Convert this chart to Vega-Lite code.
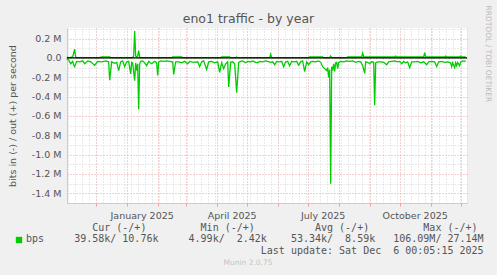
{
  "$schema": "https://vega.github.io/schema/vega-lite/v6.json",
  "width": 400,
  "height": 175,
  "autosize": {"type": "none"},
  "padding": {"left": 67, "top": 28, "right": 30, "bottom": 72},
  "background": "#f0f0f0",
  "title": {"text": "Munin 2.0.75", "orient": "bottom", "anchor": "middle", "frame": "group", "dx": -19, "offset": 4, "font": "DejaVu Sans", "fontSize": 7.5, "fontWeight": "normal", "color": "#c4c4c4"},
  "config": {"view": {"stroke": null, "fill": "white"}, "font": "DejaVu Sans"},
  "datasets": {
    "inData": [
      {"t":"2024-11-02","v":-10000},{"t":"2024-11-04","v":-20000},{"t":"2024-11-06","v":-60000},{"t":"2024-11-08","v":-35000},{"t":"2024-11-09","v":-70000},{"t":"2024-11-10","v":-90000},{"t":"2024-11-12","v":-35000},{"t":"2024-11-15","v":-40000},{"t":"2024-11-18","v":-30000},{"t":"2024-11-20","v":-60000},{"t":"2024-11-23","v":-30000},{"t":"2024-11-26","v":-40000},{"t":"2024-11-30","v":-75000},{"t":"2024-12-03","v":-35000},{"t":"2024-12-07","v":-40000},{"t":"2024-12-11","v":-30000},{"t":"2024-12-14","v":-40000},{"t":"2024-12-15","v":-230000},{"t":"2024-12-17","v":-40000},{"t":"2024-12-20","v":-55000},{"t":"2024-12-22","v":-45000},{"t":"2024-12-24","v":-130000},{"t":"2024-12-26","v":-40000},{"t":"2024-12-28","v":-30000},{"t":"2024-12-30","v":-90000},
      {"t":"2025-01-01","v":-40000},{"t":"2025-01-03","v":-35000},{"t":"2025-01-05","v":-165000},{"t":"2025-01-06","v":-45000},{"t":"2025-01-07","v":-50000},{"t":"2025-01-09","v":-235000},{"t":"2025-01-10","v":-50000},{"t":"2025-01-11","v":-130000},{"t":"2025-01-12","v":-60000},{"t":"2025-01-13","v":-530000},{"t":"2025-01-14","v":-60000},{"t":"2025-01-15","v":-35000},{"t":"2025-01-17","v":-30000},{"t":"2025-01-19","v":-50000},{"t":"2025-01-21","v":-80000},{"t":"2025-01-23","v":-35000},{"t":"2025-01-26","v":-60000},{"t":"2025-01-29","v":-35000},{"t":"2025-01-31","v":-50000},
      {"t":"2025-02-01","v":-180000},{"t":"2025-02-02","v":-40000},{"t":"2025-02-04","v":-30000},{"t":"2025-02-07","v":-35000},{"t":"2025-02-10","v":-30000},{"t":"2025-02-13","v":-35000},{"t":"2025-02-16","v":-40000},{"t":"2025-02-17","v":-170000},{"t":"2025-02-19","v":-40000},{"t":"2025-02-22","v":-40000},{"t":"2025-02-25","v":-50000},{"t":"2025-02-28","v":-35000},
      {"t":"2025-03-03","v":-60000},{"t":"2025-03-05","v":-35000},{"t":"2025-03-07","v":-40000},{"t":"2025-03-10","v":-45000},{"t":"2025-03-13","v":-40000},{"t":"2025-03-15","v":-90000},{"t":"2025-03-17","v":-40000},{"t":"2025-03-19","v":-30000},{"t":"2025-03-22","v":-120000},{"t":"2025-03-24","v":-40000},{"t":"2025-03-27","v":-35000},{"t":"2025-03-30","v":-50000},
      {"t":"2025-04-02","v":-40000},{"t":"2025-04-04","v":-150000},{"t":"2025-04-06","v":-50000},{"t":"2025-04-08","v":-110000},{"t":"2025-04-10","v":-60000},{"t":"2025-04-12","v":-40000},{"t":"2025-04-13","v":-300000},{"t":"2025-04-15","v":-45000},{"t":"2025-04-17","v":-40000},{"t":"2025-04-19","v":-60000},{"t":"2025-04-21","v":-360000},{"t":"2025-04-23","v":-45000},{"t":"2025-04-25","v":-35000},{"t":"2025-04-27","v":-30000},{"t":"2025-04-30","v":-50000},
      {"t":"2025-05-02","v":-35000},{"t":"2025-05-05","v":-40000},{"t":"2025-05-07","v":-30000},{"t":"2025-05-10","v":-45000},{"t":"2025-05-12","v":-50000},{"t":"2025-05-14","v":-35000},{"t":"2025-05-17","v":-40000},{"t":"2025-05-20","v":-30000},{"t":"2025-05-22","v":-35000},{"t":"2025-05-25","v":-45000},{"t":"2025-05-27","v":-40000},{"t":"2025-05-29","v":-70000},{"t":"2025-05-31","v":-35000},
      {"t":"2025-06-03","v":-40000},{"t":"2025-06-05","v":-35000},{"t":"2025-06-07","v":-90000},{"t":"2025-06-09","v":-40000},{"t":"2025-06-11","v":-35000},{"t":"2025-06-13","v":-80000},{"t":"2025-06-15","v":-35000},{"t":"2025-06-18","v":-40000},{"t":"2025-06-20","v":-35000},{"t":"2025-06-22","v":-75000},{"t":"2025-06-24","v":-40000},{"t":"2025-06-26","v":-30000},{"t":"2025-06-28","v":-140000},{"t":"2025-06-30","v":-40000},
      {"t":"2025-07-02","v":-70000},{"t":"2025-07-04","v":-40000},{"t":"2025-07-06","v":-35000},{"t":"2025-07-09","v":-40000},{"t":"2025-07-12","v":-30000},{"t":"2025-07-14","v":-45000},{"t":"2025-07-16","v":-90000},{"t":"2025-07-18","v":-110000},{"t":"2025-07-20","v":-130000},{"t":"2025-07-21","v":-100000},{"t":"2025-07-22","v":-200000},{"t":"2025-07-23","v":-120000},{"t":"2025-07-24","v":-1300000},{"t":"2025-07-25","v":-90000},{"t":"2025-07-26","v":-130000},{"t":"2025-07-27","v":-60000},{"t":"2025-07-28","v":-140000},{"t":"2025-07-29","v":-50000},{"t":"2025-07-30","v":-45000},{"t":"2025-07-31","v":-110000},
      {"t":"2025-08-01","v":-45000},{"t":"2025-08-03","v":-35000},{"t":"2025-08-06","v":-40000},{"t":"2025-08-09","v":-30000},{"t":"2025-08-12","v":-35000},{"t":"2025-08-15","v":-30000},{"t":"2025-08-18","v":-45000},{"t":"2025-08-21","v":-35000},{"t":"2025-08-23","v":-40000},{"t":"2025-08-25","v":-80000},{"t":"2025-08-27","v":-160000},{"t":"2025-08-28","v":-40000},{"t":"2025-08-30","v":-45000},
      {"t":"2025-09-01","v":-60000},{"t":"2025-09-03","v":-40000},{"t":"2025-09-05","v":-45000},{"t":"2025-09-06","v":-490000},{"t":"2025-09-07","v":-50000},{"t":"2025-09-09","v":-40000},{"t":"2025-09-12","v":-40000},{"t":"2025-09-15","v":-45000},{"t":"2025-09-18","v":-70000},{"t":"2025-09-20","v":-40000},{"t":"2025-09-23","v":-35000},{"t":"2025-09-26","v":-30000},{"t":"2025-09-29","v":-40000},
      {"t":"2025-10-01","v":-35000},{"t":"2025-10-03","v":-60000},{"t":"2025-10-05","v":-35000},{"t":"2025-10-07","v":-50000},{"t":"2025-10-09","v":-40000},{"t":"2025-10-11","v":-100000},{"t":"2025-10-13","v":-40000},{"t":"2025-10-16","v":-40000},{"t":"2025-10-19","v":-35000},{"t":"2025-10-22","v":-50000},{"t":"2025-10-25","v":-40000},{"t":"2025-10-28","v":-70000},{"t":"2025-10-30","v":-40000},
      {"t":"2025-11-02","v":-35000},{"t":"2025-11-05","v":-40000},{"t":"2025-11-07","v":-90000},{"t":"2025-11-09","v":-40000},{"t":"2025-11-12","v":-35000},{"t":"2025-11-15","v":-45000},{"t":"2025-11-18","v":-40000},{"t":"2025-11-21","v":-50000},{"t":"2025-11-22","v":-90000},{"t":"2025-11-23","v":-50000},{"t":"2025-11-25","v":-100000},{"t":"2025-11-26","v":-50000},{"t":"2025-11-27","v":-80000},{"t":"2025-11-28","v":-45000},{"t":"2025-11-30","v":-80000},
      {"t":"2025-12-01","v":-40000},{"t":"2025-12-03","v":-30000},{"t":"2025-12-05","v":-35000},{"t":"2025-12-06","v":-30000}
    ],
    "outData": [
      {"t":"2024-11-02","v":5000},{"t":"2024-11-05","v":3000},{"t":"2024-11-08","v":10000},{"t":"2024-11-10","v":90000},{"t":"2024-11-11","v":10000},{"t":"2024-11-12","v":3000},{"t":"2024-12-05","v":3000},{"t":"2024-12-07","v":12000},{"t":"2024-12-15","v":12000},{"t":"2024-12-16","v":3000},
      {"t":"2025-01-07","v":3000},{"t":"2025-01-08","v":20000},{"t":"2025-01-09","v":280000},{"t":"2025-01-10","v":20000},{"t":"2025-01-11","v":10000},{"t":"2025-01-12","v":20000},{"t":"2025-01-13","v":75000},{"t":"2025-01-14","v":10000},{"t":"2025-01-15","v":3000},
      {"t":"2025-02-15","v":3000},{"t":"2025-02-16","v":12000},{"t":"2025-02-25","v":12000},{"t":"2025-02-26","v":3000},{"t":"2025-04-05","v":3000},{"t":"2025-04-06","v":12000},{"t":"2025-04-14","v":12000},{"t":"2025-04-15","v":3000},{"t":"2025-04-20","v":3000},{"t":"2025-04-21","v":10000},{"t":"2025-04-22","v":3000},
      {"t":"2025-05-24","v":3000},{"t":"2025-05-25","v":40000},{"t":"2025-05-26","v":3000},{"t":"2025-07-02","v":3000},{"t":"2025-07-03","v":12000},{"t":"2025-07-16","v":12000},{"t":"2025-07-17","v":3000},{"t":"2025-07-23","v":3000},{"t":"2025-07-24","v":20000},{"t":"2025-07-25","v":3000},
      {"t":"2025-08-09","v":3000},{"t":"2025-08-10","v":10000},{"t":"2025-08-24","v":10000},{"t":"2025-08-25","v":50000},{"t":"2025-08-26","v":10000},{"t":"2025-09-26","v":10000},{"t":"2025-09-27","v":20000},{"t":"2025-09-28","v":10000},{"t":"2025-10-25","v":10000},{"t":"2025-10-26","v":55000},{"t":"2025-10-27","v":10000},
      {"t":"2025-11-15","v":10000},{"t":"2025-11-16","v":20000},{"t":"2025-11-17","v":10000},{"t":"2025-11-30","v":10000},{"t":"2025-12-01","v":20000},{"t":"2025-12-02","v":10000},{"t":"2025-12-06","v":10000}
    ]
  },
  "resolve": {"axis": {"x": "independent", "y": "independent"}},
  "layer": [
    {
      "data": {"name": "inData"},
      "mark": {"type": "line", "strokeWidth": 1.3, "interpolate": "linear"},
      "encoding": {
        "x": {
          "field": "t", "type": "temporal",
          "scale": {"type": "utc", "domain": [{"year": 2024, "month": 11, "date": 2, "hours": 8, "utc": true}, {"year": 2025, "month": 12, "date": 7, "hours": 8, "utc": true}]},
          "axis": {
            "orient": "bottom",
            "tickCount": {"interval": "month", "step": 1},
            "grid": true, "gridColor": "#e8a0a0", "gridDash": [1, 2], "gridWidth": 1,
            "domain": true, "domainColor": "#c8c8f0", "domainWidth": 1,
            "ticks": true, "tickColor": "#e8a0a0", "tickSize": 3,
            "labelExpr": "utcmonth(datum.value) % 3 === 0 ? utcFormat(datum.value, '%B %Y') : ''",
            "labelOffset": 15, "labelPadding": 4, "labelFontSize": 9.5, "labelColor": "#555555",
            "labelOverlap": false, "labelFlush": false, "labelBound": false,
            "title": [
              "\u200b\u00a0\u00a0\u00a0\u00a0\u00a0\u00a0\u00a0\u00a0\u00a0\u00a0\u00a0Cur (-/+)\u00a0\u00a0\u00a0\u00a0\u00a0\u00a0\u00a0\u00a0\u00a0Min (-/+)\u00a0\u00a0\u00a0\u00a0\u00a0\u00a0\u00a0\u00a0\u00a0\u00a0Avg (-/+)\u00a0\u00a0\u00a0\u00a0\u00a0\u00a0\u00a0\u00a0\u00a0Max (-/+)",
              "bps\u00a0\u00a0\u00a0\u00a0\u00a039.58k/ 10.76k\u00a0\u00a0\u00a0\u00a0\u00a04.99k/\u00a0\u00a02.42k\u00a0\u00a0\u00a0\u00a053.34k/\u00a0\u00a08.59k\u00a0\u00a0\u00a0106.09M/ 27.14M",
              "\u200b\u00a0\u00a0\u00a0\u00a0\u00a0\u00a0\u00a0\u00a0\u00a0\u00a0\u00a0\u00a0\u00a0\u00a0\u00a0\u00a0\u00a0\u00a0\u00a0\u00a0\u00a0\u00a0\u00a0\u00a0\u00a0\u00a0\u00a0\u00a0\u00a0\u00a0\u00a0\u00a0\u00a0\u00a0\u00a0\u00a0\u00a0\u00a0\u00a0Last update: Sat Dec\u00a0\u00a06 00:05:15 2025"
            ],
            "titleFont": "DejaVu Sans Mono", "titleFontSize": 10, "titleFontWeight": "normal", "titleColor": "#555555",
            "titleAlign": "left", "titleBaseline": "top", "titleX": -41.5, "titleY": 19, "titleLineHeight": 11.7
          }
        },
        "y": {
          "field": "v", "type": "quantitative",
          "scale": {"domain": [-1500000, 310000], "nice": false, "zero": false},
          "axis": {
            "orient": "left",
            "values": [-1500000, -1400000, -1300000, -1200000, -1100000, -1000000, -900000, -800000, -700000, -600000, -500000, -400000, -300000, -200000, -100000, 0, 100000, 200000, 300000],
            "grid": true,
            "gridColor": {"condition": {"test": "datum.value % 200000 === 0", "value": "#e8a0a0"}, "value": "#d4d4d4"},
            "gridDash": [1, 2], "gridWidth": 1,
            "domain": true, "domainColor": "#c8c8f0", "domainWidth": 1,
            "ticks": false,
            "labelExpr": "datum.value % 200000 === 0 ? (datum.value === 0 ? '0.0' : (datum.value < 0 ? '-' : '') + format(abs(datum.value) / 1000000, '.1f') + ' M') : ''",
            "labelPadding": 6, "labelFontSize": 9.5, "labelColor": "#555555", "labelOverlap": false, "labelBound": false, "labelFlush": false,
            "title": "bits in (-) / out (+) per second",
            "titleFontSize": 9.5, "titleFontWeight": "normal", "titleColor": "#555555",
            "titleX": -55, "titleY": 87.5, "titleAngle": 270, "titleAlign": "center", "titleBaseline": "middle"
          }
        },
        "color": {
          "datum": "bps",
          "scale": {"range": ["#00cc00"]},
          "legend": {
            "orient": "none", "legendX": -53, "legendY": 207, "padding": 0,
            "title": null, "labelExpr": "''",
            "symbolType": "square", "symbolSize": 40, "symbolFillColor": "#00cc00", "symbolStrokeWidth": 0, "symbolOpacity": 1
          }
        }
      }
    },
    {
      "data": {"name": "outData"},
      "mark": {"type": "line", "strokeWidth": 1.3, "interpolate": "linear"},
      "encoding": {
        "x": {
          "field": "t", "type": "temporal",
          "axis": {
            "orient": "top",
            "tickCount": {"interval": "week", "step": 1},
            "grid": true, "gridColor": "#d4d4d4", "gridDash": [1, 2], "gridWidth": 1,
            "domain": false, "ticks": false, "labels": false,
            "title": "eno1 traffic - by year",
            "titleFont": "DejaVu Sans", "titleFontSize": 12.5, "titleFontWeight": "normal", "titleColor": "#555555",
            "titleX": 181, "titleY": -6, "titleAlign": "center", "titleBaseline": "alphabetic"
          }
        },
        "y": {
          "field": "v", "type": "quantitative",
          "axis": {
            "orient": "right",
            "grid": false, "domain": false, "ticks": false, "labels": false,
            "title": "RRDTOOL / TOBI OETIKER",
            "titleFont": "DejaVu Sans", "titleFontSize": 7.5, "titleFontWeight": "normal", "titleColor": "#bbbbbb",
            "titleAngle": 90, "titleX": 20, "titleY": -23, "titleAlign": "left", "titleBaseline": "middle"
          }
        },
        "color": {"datum": "bps"}
      }
    },
    {
      "data": {"values": [{}]},
      "mark": {"type": "rule", "color": "#000000", "strokeWidth": 1.2},
      "encoding": {"y": {"datum": 0, "type": "quantitative", "axis": null}}
    }
  ]
}
